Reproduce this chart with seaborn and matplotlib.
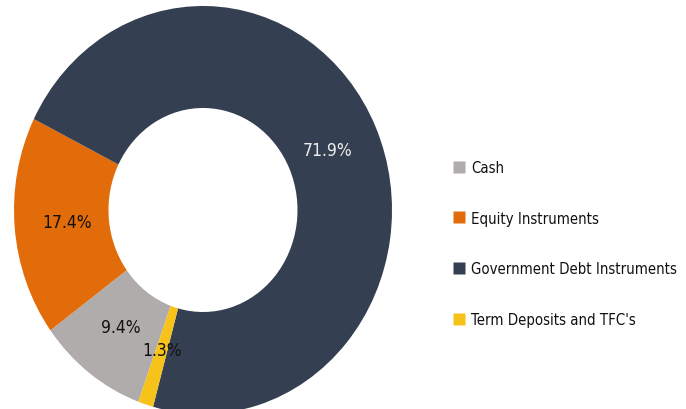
import matplotlib
matplotlib.use("Agg")
import matplotlib.pyplot as plt
from matplotlib.lines import Line2D
import seaborn as sns

categories = ["Cash", "Equity Instruments", "Government Debt Instruments", "Term Deposits and TFC's"]
values = [9.4, 17.4, 71.9, 1.3]
colors = ["#AFACAB", "#E36C0A", "#343F51", "#F7C21A"]
label_colors = ["#111111", "#111111", "#EDEDED", "#111111"]

sns.set_theme(style="white")
plt.rcParams["font.family"] = ["DejaVu Sans"]
plt.rcParams["font.stretch"] = "condensed"

W, H = 686, 410
fig = plt.figure(figsize=(W / 100, H / 100), dpi=100)
cx, cy, rx, ry = 203, 211, 189, 204
ax = fig.add_axes([(cx - rx) / W, (H - cy - ry) / H, 2 * rx / W, 2 * ry / H])

wedges, texts, autotexts = ax.pie(
    values, colors=colors, startangle=250, counterclock=False,
    wedgeprops=dict(width=0.5, edgecolor="none"),
    autopct="%1.1f%%", pctdistance=0.72, radius=1.0,
    textprops=dict(fontsize=12.5),
)
for t, c in zip(autotexts, label_colors):
    t.set_color(c)
ax.set_aspect("auto")
ax.set_xlim(-1, 1)
ax.set_ylim(-1, 1)
ax.axis("off")

handles = [Line2D([0], [0], marker="s", linestyle="none", markersize=8,
                  markerfacecolor=c, markeredgecolor="none") for c in colors]
leg = fig.legend(handles, categories, loc="upper left",
                 bbox_to_anchor=(453 / W, (H - 161) / H), frameon=False,
                 fontsize=10.7, labelspacing=2.4, handlelength=0.8,
                 handletextpad=0.4, borderaxespad=0, borderpad=0)
for t in leg.get_texts():
    t.set_color("#111111")

fig.savefig("out.png", dpi=100)
